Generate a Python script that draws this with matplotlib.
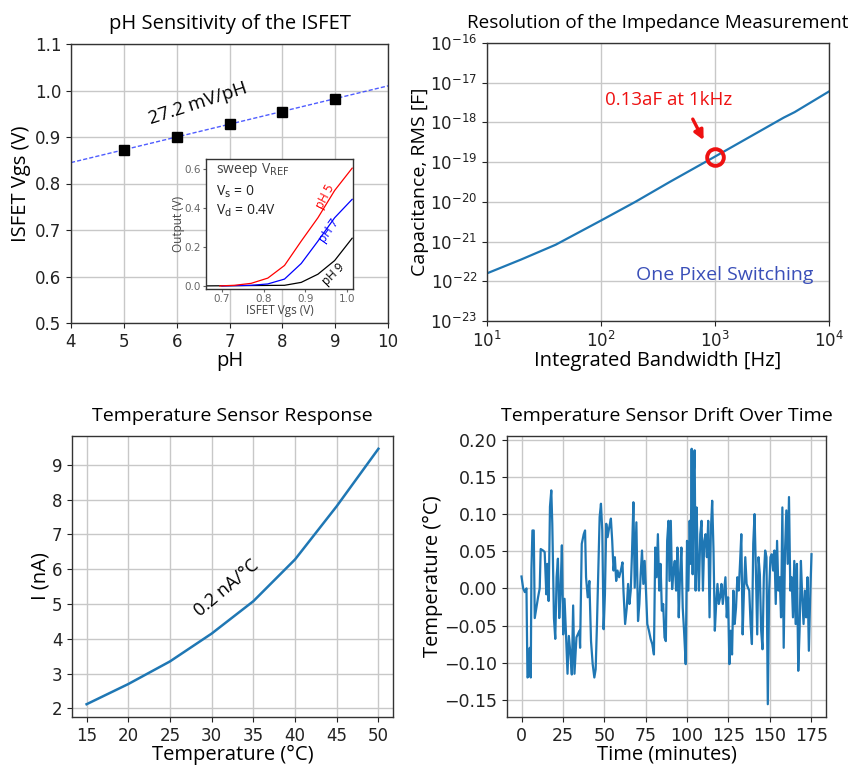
import matplotlib
matplotlib.use("Agg")
import matplotlib.pyplot as plt
import numpy as np

# ---------------- data ----------------
# Panel 1: pH sensitivity
ph_values = [5, 6, 7, 8, 9]
vgs_values = [0.872, 0.901, 0.927, 0.953, 0.982]
fit_ph = [4, 10]
fit_vgs = [0.845, 1.010]

# Inset: output vs Vgs
inset_ph5_x = [0.695, 0.73, 0.77, 0.81, 0.85, 0.89, 0.93, 0.97, 1.012]
inset_ph5_y = [0.0, 0.003, 0.013, 0.04, 0.105, 0.23, 0.35, 0.49, 0.605]
inset_ph7_x = [0.70, 0.77, 0.81, 0.85, 0.89, 0.93, 0.97, 1.012]
inset_ph7_y = [0.0, 0.003, 0.01, 0.035, 0.115, 0.23, 0.35, 0.445]
inset_ph9_x = [0.662, 0.85, 0.89, 0.93, 0.97, 1.012]
inset_ph9_y = [0.0, 0.003, 0.018, 0.06, 0.13, 0.245]

# Panel 2: impedance resolution
bandwidth_hz = [10, 20, 40, 100, 200, 400, 1000, 2000, 4000, 5000, 10000]
cap_log10 = [-21.80, -21.45, -21.08, -20.47, -20.00, -19.50, -18.86, -18.37, -17.88, -17.74, -17.22]
highlight_bw = 1000
highlight_cap = 1.38e-19

# Panel 3: temperature sensor response
temp_c = [15, 20, 25, 30, 35, 40, 45, 50]
current_na = [2.12, 2.70, 3.35, 4.15, 5.08, 6.28, 7.81, 9.46]

# Panel 4: drift over time
drift_time = [0, 1, 2, 3, 3.6, 4.4, 5, 5.6, 6, 6.6, 7.4, 8, 9, 10, 11, 11.6, 13, 14, 15, 15.6,
              16.4, 17.2, 18, 18.6, 19.6, 20.4, 21.2, 22, 22.8, 23.6, 24.4, 25.2, 26, 26.8, 27.8,
              28.6, 29.6, 30.4, 31.2, 32, 33.2, 34, 35, 35.4, 36.4, 37.6, 38.4, 39, 40, 41, 42, 43,
              44, 44.8, 45.6, 46.4, 47.2, 48, 48.8, 49.6, 50.4, 51.2, 52, 53, 54, 54.8, 55.6, 56.4,
              57.2, 58, 59, 60, 61, 61.6, 62.6, 63.6, 64.4, 65.2, 66, 66.8, 67.6, 68.4, 69.4, 70.4,
              71.2, 72, 72.8, 73.6, 74.4, 75.2, 76, 77, 78, 79, 80, 80.8, 81.6, 82.4, 83.2, 84, 84.8,
              85.6, 86.4, 87.2, 88, 88.8, 89.4, 90.2, 91, 91.8, 92.6, 93.4, 94.2, 95, 95.8, 96.6,
              97.4, 98.2, 99.2, 100, 100.8, 101.6, 102.2, 102.8, 103.4, 104, 104.6, 105.2, 105.8,
              106.4, 107.2, 108, 108.8, 109.6, 110.4, 111.2, 112, 112.8, 113.6, 114.4, 115.2, 116,
              116.8, 117.6, 118.4, 119.2, 120, 120.8, 121.6, 122.4, 123.2, 124, 124.8, 125.6, 126.4,
              127.2, 128, 128.8, 129.6, 130.4, 131.2, 132, 132.8, 133.6, 134.4, 135.2, 136, 136.8,
              137.6, 138.4, 139.2, 140, 140.8, 141.6, 142.4, 143.2, 144, 144.8, 145.6, 146.4, 147.2,
              148, 148.8, 149.6, 150.4, 151.2, 152, 152.8, 153.6, 154.4, 155.2, 156, 156.8, 157.6,
              158.4, 159.2, 160, 160.8, 161.6, 162.4, 163.2, 164, 164.8, 165.6, 166.4, 167.2, 168,
              168.8, 169.6, 170.4, 171.2, 172, 172.8, 173.6, 174.4, 175.2]
drift_temp = [0.016, 0.0, -0.005, 0.0, -0.12, -0.118, -0.08, -0.12, 0.025, 0.078, 0.078, -0.04,
              -0.026, -0.012, 0.0, 0.053, 0.051, 0.049, -0.008, 0.033, -0.017, 0.11, 0.132, 0.087,
              -0.04, -0.068, 0.015, 0.04, -0.04, -0.003, 0.058, -0.062, -0.014, -0.057, -0.115,
              -0.064, -0.089, -0.116, -0.023, -0.115, -0.066, -0.062, -0.057, -0.08, 0.06, 0.073,
              0.078, 0.015, -0.012, 0.01, -0.071, -0.102, -0.12, -0.109, -0.048, 0.024, 0.096,
              0.114, 0.078, -0.055, -0.008, 0.087, 0.069, 0.082, 0.094, 0.064, 0.024, 0.042, 0.01,
              0.024, 0.015, 0.024, 0.035, -0.003, -0.048, -0.026, 0.006, -0.021, -0.003, 0.051,
              0.116, 0.001, 0.089, -0.044, -0.021, 0.019, 0.051, 0.006, 0.037, -0.003, -0.048,
              -0.057, -0.068, -0.075, -0.089, 0.055, 0.015, 0.073, -0.003, 0.033, -0.03, -0.021,
              -0.066, -0.071, 0.064, 0.091, 0.01, 0.091, -0.001, 0.024, 0.037, -0.003, 0.055,
              -0.039, 0.019, 0.055, -0.026, -0.057, -0.102, 0.064, -0.003, 0.091, 0.033, 0.188,
              0.019, 0.15, 0.186, -0.003, 0.109, 0.042, -0.003, 0.073, 0.091, -0.003, 0.064, 0.073,
              0.042, 0.091, -0.039, 0.078, 0.118, 0.051, -0.057, -0.021, 0.006, -0.021, -0.012,
              0.006, -0.021, -0.003, 0.015, -0.039, -0.012, -0.102, -0.057, -0.089, -0.003, -0.048,
              -0.026, 0.015, -0.003, 0.033, 0.073, -0.062, -0.003, 0.042, 0.006, 0.001, -0.003,
              -0.048, -0.075, 0.06, 0.1, 0.024, -0.062, 0.042, 0.019, -0.057, -0.082, 0.015, 0.051,
              0.042, -0.156, -0.003, 0.042, 0.046, 0.024, 0.051, -0.021, 0.064, -0.003, 0.015,
              -0.039, 0.109, -0.08, 0.051, 0.105, 0.033, 0.123, -0.003, 0.015, -0.039, 0.037,
              -0.048, 0.033, -0.111, -0.057, 0.037, -0.012, -0.048, -0.003, -0.039, 0.015, -0.084,
              -0.012, 0.046]

# ---------------- styling ----------------
LABEL_FONT = "Open Sans"
TICK_FS = 12
TITLE_FS = 14
LABEL_FS = 14.5
BLUE = "#1f77b4"
GRID = dict(color="#c8c8c8", linewidth=1.0)

W, H = 863, 766
fig = plt.figure(figsize=(W / 100, H / 100), dpi=100)


def style(ax):
    ax.grid(True, **GRID)
    ax.set_axisbelow(True)
    for s in ax.spines.values():
        s.set_color("#333333")
        s.set_linewidth(1.0)
    ax.tick_params(labelsize=TICK_FS, colors="#222222")


# ---------- Panel 1 ----------
ax1 = fig.add_axes([71 / W, 1 - 323 / H, 317 / W, 279 / H])
style(ax1)
ax1.plot(fit_ph, fit_vgs, color="#3040ff", lw=1.0, ls=(0, (3, 1.5)), alpha=0.85)
ax1.plot(ph_values, vgs_values, "s", color="black", markersize=7)
ax1.set_xlim(4, 10)
ax1.set_ylim(0.5, 1.1)
ax1.set_xticks([4, 5, 6, 7, 8, 9, 10])
ax1.set_yticks([0.5, 0.6, 0.7, 0.8, 0.9, 1.0, 1.1])
ax1.set_title("pH Sensitivity of the ISFET", fontsize=14.5, family=LABEL_FONT, pad=11)
ax1.set_xlabel("pH", fontsize=LABEL_FS, family=LABEL_FONT, labelpad=0)
ax1.set_ylabel("ISFET Vgs (V)", fontsize=LABEL_FS, family=LABEL_FONT, labelpad=3)
ax1.text(6.4, 0.972, "27.2 mV/pH", fontsize=13.5, family=LABEL_FONT, rotation=18,
         ha="center", va="center")

# Inset
axi = fig.add_axes([206 / W, 1 - 289 / H, 147 / W, 130 / H])
axi.plot(inset_ph9_x, inset_ph9_y, color="black", lw=0.9)
axi.plot(inset_ph7_x, inset_ph7_y, color="blue", lw=0.9)
axi.plot(inset_ph5_x, inset_ph5_y, color="red", lw=0.9)
axi.set_xlim(0.662, 1.014)
axi.set_ylim(-0.016, 0.652)
axi.set_xticks([0.7, 0.8, 0.9, 1.0])
axi.set_yticks([0.0, 0.2, 0.4, 0.6])
axi.tick_params(labelsize=7.5, colors="#666666", length=2, pad=1.5)
for s in axi.spines.values():
    s.set_color("#333333")
    s.set_linewidth(1.0)
axi.set_xlabel("ISFET Vgs (V)", fontsize=8.5, family=LABEL_FONT, color="#444444", labelpad=0)
axi.set_ylabel("Output (V)", fontsize=8.5, family=LABEL_FONT, color="#444444", labelpad=0)
axi.text(0.685, 0.595, "sweep V$_{\\mathrm{REF}}$", fontsize=10, family=LABEL_FONT,
         color="#444444", va="center")
axi.text(0.685, 0.485, "V$_{\\mathrm{s}}$ = 0", fontsize=10, family=LABEL_FONT,
         color="#222222", va="center")
axi.text(0.685, 0.385, "V$_{\\mathrm{d}}$ = 0.4V", fontsize=10, family=LABEL_FONT,
         color="#222222", va="center")
axi.text(0.948, 0.46, "pH 5", fontsize=8.5, family=LABEL_FONT, color="red", rotation=62,
         ha="center", va="center")
axi.text(0.956, 0.285, "pH 7", fontsize=8.5, family=LABEL_FONT, color="blue", rotation=55,
         ha="center", va="center")
axi.text(0.968, 0.06, "pH 9", fontsize=8.5, family=LABEL_FONT, color="black", rotation=45,
         ha="center", va="center")

# ---------- Panel 2 ----------
ax2 = fig.add_axes([487 / W, 1 - 321 / H, 342 / W, 278 / H])
style(ax2)
cap_values = [10.0 ** v for v in cap_log10]
ax2.loglog(bandwidth_hz, cap_values, color=BLUE, lw=1.6)
ax2.plot([highlight_bw], [highlight_cap], "o", mfc="none", mec="#ee1111", mew=2.8, ms=12)
ax2.set_xlim(10, 1e4)
ax2.set_ylim(1e-23, 1e-16)
ax2.set_yticks([10.0 ** e for e in range(-23, -15)])
ax2.minorticks_off()
ax2.set_title("Resolution of the Impedance Measurement", fontsize=13.6, family=LABEL_FONT, pad=11)
ax2.set_xlabel("Integrated Bandwidth [Hz]", fontsize=LABEL_FS, family=LABEL_FONT, labelpad=0)
ax2.set_ylabel("Capacitance, RMS [F]", fontsize=14, family=LABEL_FONT, labelpad=1)
ax2.annotate("", xy=(815, 3.1e-19), xytext=(622, 1.4e-18),
             arrowprops=dict(arrowstyle="-|>", color="#ee1111", lw=2.4, mutation_scale=14))
ax2.text(390, 3.7e-18, "0.13aF at 1kHz", fontsize=13.5, family=LABEL_FONT, color="#ee1111",
         ha="center", va="center")
ax2.text(1222, 1.4e-22, "One Pixel Switching", fontsize=14, family=LABEL_FONT, color="#3a4fb8",
         ha="center", va="center")

# ---------- Panel 3 ----------
ax3 = fig.add_axes([72 / W, 1 - 717 / H, 321 / W, 281 / H])
style(ax3)
ax3.plot(temp_c, current_na, color=BLUE, lw=1.8)
ax3.set_xticks([15, 20, 25, 30, 35, 40, 45, 50])
ax3.set_yticks([2, 3, 4, 5, 6, 7, 8, 9])
ax3.set_title("Temperature Sensor Response", fontsize=TITLE_FS, family=LABEL_FONT, pad=11)
ax3.set_xlabel("Temperature (°C)", fontsize=LABEL_FS, family=LABEL_FONT, labelpad=0)
ax3.set_ylabel("I (nA)", fontsize=LABEL_FS, family=LABEL_FONT, labelpad=1)
ax3.text(31.8, 5.47, "0.2 nA/°C", fontsize=13, family=LABEL_FONT, rotation=40,
         ha="center", va="center")

# ---------- Panel 4 ----------
ax4 = fig.add_axes([507 / W, 1 - 717 / H, 319 / W, 281 / H])
style(ax4)
ax4.plot(drift_time, drift_temp, color=BLUE, lw=1.6)
ax4.set_xticks([0, 25, 50, 75, 100, 125, 150, 175])
ax4.set_yticks([-0.15, -0.10, -0.05, 0.0, 0.05, 0.10, 0.15, 0.20])
ax4.tick_params(labelsize=12.5)
ax4.set_title("Temperature Sensor Drift Over Time", fontsize=TITLE_FS, family=LABEL_FONT, pad=11)
ax4.set_xlabel("Time (minutes)", fontsize=LABEL_FS, family=LABEL_FONT, labelpad=0)
ax4.set_ylabel("Temperature (°C)", fontsize=LABEL_FS, family=LABEL_FONT, labelpad=1)

fig.savefig("out.png", dpi=100, facecolor="white")
